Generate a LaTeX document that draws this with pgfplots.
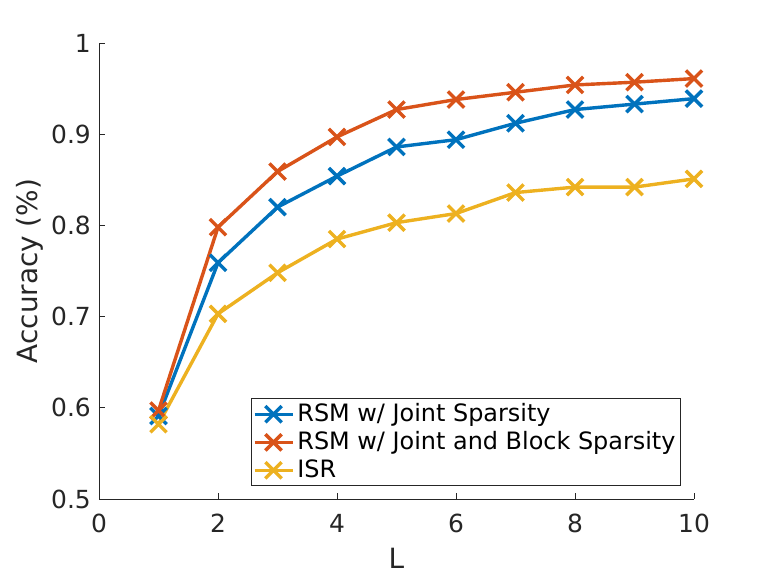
\documentclass[border=0pt]{standalone}
\usepackage{fontspec}
\setmainfont{DejaVu Sans}
\usepackage{pgfplots}
\pgfplotsset{compat=1.18}
\definecolor{mblue}{HTML}{0072BD}
\definecolor{morange}{HTML}{D95319}
\definecolor{myellow}{HTML}{EDB120}
\definecolor{axgray}{HTML}{262626}
\begin{document}
\fontsize{24}{29}\selectfont
\begin{tikzpicture}[x=1bp,y=1bp]
\path (0,0) rectangle (768,576);
\begin{axis}[
  at={(99bp,77bp)}, anchor=south west,
  scale only axis, width=595bp, height=456bp,
  xmin=0, xmax=10, ymin=0.5, ymax=1,
  axis lines*=left,
  xtick={0,2,4,6,8,10},
  ytick={0.5,0.6,0.7,0.8,0.9,1},
  yticklabels={0.5,0.6,0.7,0.8,0.9,1},
  xticklabels={0,2,4,6,8,10},
  tick align=inside,
  major tick length=6bp,
  axis line style={color=axgray, line width=0.6bp},
  tick style={color=axgray, line width=0.6bp},
  ticklabel style={font=\fontsize{25}{30}\selectfont, color=axgray},
  xticklabel style={anchor=base, yshift=-34bp},
  yticklabel style={anchor=east, inner sep=0pt, xshift=-8bp},
  /pgf/number format/assume math mode=true,
  xlabel={L},
  ylabel={Accuracy (\%)},
  label style={font=\fontsize{28}{34}\selectfont, color=axgray},
  xlabel style={at={(axis description cs:0.5,0)}, anchor=base, yshift=-70bp},
  ylabel style={at={(axis description cs:-0.117,0.5)}, anchor=center},
  legend style={at={(0.978,0.0285)}, anchor=south east,
    draw=axgray, line width=0.6bp, fill=white,
    font=\fontsize{24}{29}\selectfont,
    inner xsep=2bp, inner ysep=1.5bp, row sep=0pt,
    nodes={inner sep=3.2bp, text=black},
    cells={anchor=west}},
  legend image code/.code={\draw[mark repeat=2,mark phase=2,#1] plot coordinates {(0bp,0bp) (19bp,0bp) (38bp,0bp)};},
  every axis plot/.append style={line width=3.4bp, mark=x, mark size=11.5bp, mark options={solid, line width=3.4bp}},
]
\addplot[color=mblue] coordinates {
(1,0.591) (2,0.759) (3,0.820) (4,0.854) (5,0.886) (6,0.894) (7,0.912) (8,0.927) (9,0.933) (10,0.939)};
\addlegendentry{RSM w/ Joint Sparsity}
\addplot[color=morange] coordinates {
(1,0.597) (2,0.798) (3,0.859) (4,0.897) (5,0.927) (6,0.938) (7,0.946) (8,0.954) (9,0.957) (10,0.961)};
\addlegendentry{RSM w/ Joint and Block Sparsity}
\addplot[color=myellow] coordinates {
(1,0.582) (2,0.703) (3,0.748) (4,0.785) (5,0.803) (6,0.813) (7,0.836) (8,0.842) (9,0.842) (10,0.851)};
\addlegendentry{ISR}
\end{axis}
\end{tikzpicture}
\end{document}
